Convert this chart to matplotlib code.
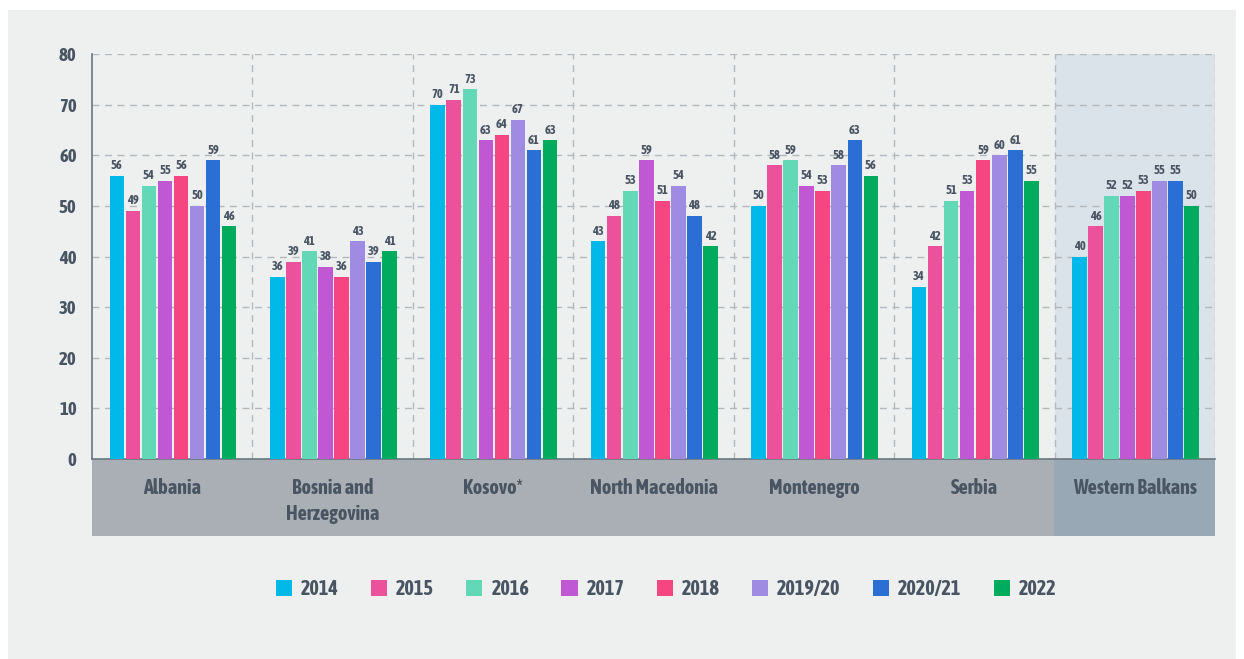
import matplotlib
matplotlib.use("Agg")
import matplotlib.pyplot as plt
from matplotlib.patches import Rectangle
import numpy as np

categories = ["Albania", "Bosnia and\nHerzegovina", "Kosovo*", "North Macedonia",
              "Montenegro", "Serbia", "Western Balkans"]
series_names = ["2014", "2015", "2016", "2017", "2018", "2019/20", "2020/21", "2022"]
values = {
    "2014":    [56, 36, 70, 43, 50, 34, 40],
    "2015":    [49, 39, 71, 48, 58, 42, 46],
    "2016":    [54, 41, 73, 53, 59, 51, 52],
    "2017":    [55, 38, 63, 59, 54, 53, 52],
    "2018":    [56, 36, 64, 51, 53, 59, 53],
    "2019/20": [50, 43, 67, 54, 58, 60, 55],
    "2020/21": [59, 39, 61, 48, 63, 61, 55],
    "2022":    [46, 41, 63, 42, 56, 55, 50],
}
colors = ["#00b9e8", "#ec519b", "#62d8b6", "#bf58d2", "#f54681", "#9f8ce2", "#2b6fd5", "#00ab5d"]
yticks = [0, 10, 20, 30, 40, 50, 60, 70, 80]

plt.rcParams["font.family"] = ["Asap Condensed", "DejaVu Sans"]
plt.rcParams["font.weight"] = "bold"
TXT = "#4a5563"

W, H = 1244, 659
fig = plt.figure(figsize=(W / 100, H / 100), dpi=100)
fig.patch.set_facecolor("white")

def fx(px):
    return px / W

def fy(py):
    return 1 - py / H

# grey panel
fig.patches.append(Rectangle((fx(8), 0), fx(1236) - fx(8), fy(10), transform=fig.transFigure,
                             facecolor="#eef0ef", edgecolor="none", zorder=-2))

ax_l, ax_r, ax_t, ax_b = 92, 1215, 54, 459
ax = fig.add_axes([fx(ax_l), fy(ax_b), fx(ax_r) - fx(ax_l), fy(ax_t) - fy(ax_b)])
ax.set_facecolor("none")
ax.set_zorder(2)

n_cat = len(categories)
n_ser = len(series_names)
bar_w = 0.1
x = np.arange(n_cat)
offset0 = -0.5 + 0.105 + bar_w / 2

# Western Balkans shading
ax.axvspan(n_cat - 1 - 0.5, n_cat - 1 + 0.5, facecolor="#dae3e9", edgecolor="none", zorder=0)

for i, s in enumerate(series_names):
    xs = x + offset0 + i * bar_w
    ax.bar(xs, values[s], width=bar_w * 0.91, color=colors[i], zorder=3, label=s)
    for xi, v in zip(xs, values[s]):
        ax.text(xi, v + 0.7, str(v), ha="center", va="bottom", fontsize=9,
                color=TXT, fontweight="bold", zorder=4)

ax.set_xlim(-0.5, n_cat - 0.5)
ax.set_ylim(0, 80)
ax.set_yticks(yticks)
ax.set_yticklabels([str(t) for t in yticks], fontsize=13.5, color=TXT, fontweight="bold")
ax.tick_params(axis="y", length=0, pad=11)
ax.set_xticks([])
for t in yticks[1:]:
    ax.axhline(t, color="#b3b8bd", lw=1, ls=(0, (5, 4)), zorder=1)
for b in np.arange(0.5, n_cat, 1.0):
    ax.axvline(b, color="#b3b8bd", lw=1, ls=(0, (5, 4)), zorder=1)

for sp in ["top", "right"]:
    ax.spines[sp].set_visible(False)
for sp in ["left", "bottom"]:
    ax.spines[sp].set_color("#6b7680")
    ax.spines[sp].set_linewidth(1.2)

# category band
band_t, band_b = 459, 536
wb_left = 1054
fig.patches.append(Rectangle((fx(ax_l), fy(band_b)), fx(wb_left) - fx(ax_l), fy(band_t) - fy(band_b),
                             transform=fig.transFigure, facecolor="#a9afb4", edgecolor="none", zorder=1))
fig.patches.append(Rectangle((fx(wb_left), fy(band_b)), fx(ax_r) - fx(wb_left), fy(band_t) - fy(band_b),
                             transform=fig.transFigure, facecolor="#98a9b5", edgecolor="none", zorder=1))
for i, c in enumerate(categories):
    xc = ax_l + (ax_r - ax_l) * (i + 0.5) / n_cat
    fig.text(fx(xc), fy(478), c, ha="center", va="top", fontsize=14.5, color=TXT,
             fontweight="bold", linespacing=1.35, zorder=5)

leg = fig.legend(loc="center", bbox_to_anchor=(fx(666), fy(589)), ncol=8, frameon=False,
                 fontsize=14.5, handlelength=0.8, handleheight=0.8, handletextpad=0.45,
                 columnspacing=1.6, labelcolor=TXT)
for t in leg.get_texts():
    t.set_fontweight("bold")

fig.savefig("out.png", dpi=100, facecolor=fig.get_facecolor())
